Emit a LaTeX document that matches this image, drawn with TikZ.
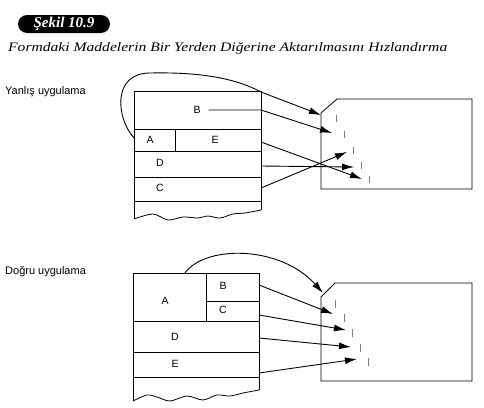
\documentclass[tikz,border=0pt]{standalone}
\usepackage{fontspec}
\setmainfont{Liberation Serif}
\newfontfamily\lblfont{Liberation Sans}
\usetikzlibrary{arrows.meta}
\begin{document}
\begin{tikzpicture}[x=1pt,y=-1pt,
  formline/.style={line width=0.8pt,black},
  arr/.style={line width=0.9pt,-{Latex[length=12pt,width=7pt]}},
  tick/.style={line width=0.6pt,gray},
  lbl/.style={font=\lblfont\fontsize{11}{12}\selectfont,inner sep=0pt},
  cell/.style={font=\lblfont\fontsize{10.5}{11}\selectfont,inner sep=0pt}]
\useasboundingbox (0,0) rectangle (484,407);
% title
\node[fill=black,rounded corners=9pt,minimum width=92pt,minimum height=18pt,inner sep=0pt,
  text=white,font=\fontsize{15}{16}\selectfont\bfseries\itshape] (title) at (64,24) {Şekil 10.9};
\node[anchor=west,inner sep=0pt,font=\fontsize{13}{14}\selectfont\itshape] (subtitle) at (8,48)
  {\scalebox{1.2}[1]{Formdaki Maddelerin Bir Yerden Diğerine Aktarılmasını Hızlandırma}};
% side labels
\node[lbl,anchor=west] (wrong) at (5,92) {Yanlış uygulama};
\node[lbl,anchor=west] (right) at (5,272) {Doğru uygulama};

% ===== top form =====
\coordinate (t1) at (134,91);
\coordinate (t2) at (261,91);
\draw[formline] (134,219) -- (t1) -- (t2) -- (261,210);
\draw[formline] plot[smooth] coordinates {(134,219) (153,214) (168,220) (183,217) (198,218) (208,216) (220,218) (233,214) (245,213) (261,210)};
\foreach \y in {129,151,177,201} \draw[formline] (134,\y) -- (261,\y);
\draw[formline] (175,129) -- (175,151);
\node[cell] (tB) at (197,110) {B};
\node[cell] (tA) at (150,140) {A};
\node[cell] (tE) at (215,140) {E};
\node[cell] (tD) at (160,163) {D};
\node[cell] (tC) at (160,188) {C};
% top target box
\coordinate (tc) at (321,115);
\draw[formline] (321,189) -- (321,113) -- (337,99) -- (472,99) -- (472,189) -- cycle;
\foreach \x/\y in {336/115,344/131,353/147,361/162,369/176} \draw[tick] (\x,\y) -- (\x,\y+7);
% top connectors
\coordinate (tAs) at (134,138);
\draw[arr] (tAs) .. controls (116,118) and (112,73) .. (150,73) .. controls (200,72) and (235,78) .. (261,92) -- (tc);
\coordinate (tBe) at (332,133);
\draw[arr] (tB.east) ++(8,0) -- (261,110) -- (tBe);
\coordinate (tEs) at (261,142); \coordinate (tEe) at (362,179);
\draw[arr] (tEs) -- (tEe);
\coordinate (tDs) at (261,166); \coordinate (tDe) at (354,167);
\draw[arr] (tDs) -- (tDe);
\coordinate (tCs) at (261,188); \coordinate (tCe) at (347,152);
\draw[arr] (tCs) -- (tCe);

% ===== bottom form =====
\draw[formline] (133,401) -- (133,273) -- (259,273) -- (259,390);
\draw[formline] plot[smooth] coordinates {(133,401) (147,395) (157,397) (170,401) (187,396) (203,400) (217,395) (230,396) (243,393) (259,390)};
\draw[formline] (206,273) -- (206,321);
\draw[formline] (206,301) -- (259,301);
\foreach \y in {321,352,377} \draw[formline] (133,\y) -- (259,\y);
\node[cell] (bA) at (165,301) {A};
\node[cell] (bB) at (223,286) {B};
\node[cell] (bC) at (223,310) {C};
\node[cell] (bD) at (175,337) {D};
\node[cell] (bE) at (175,364) {E};
% bottom target box
\draw[formline] (321,381) -- (321,297) -- (335,283) -- (472,283) -- (472,381) -- cycle;
\foreach \x/\y in {335/300,344/314,352/329,360/344,368/358} \draw[tick] (\x,\y) -- (\x,\y+8);
% bottom connectors
\coordinate (bAs) at (185,273); \coordinate (bc) at (323,293);
\draw[arr] (bAs) .. controls (205,245) and (280,245) .. (bc);
\coordinate (bBs) at (259,285); \coordinate (bBe) at (333,314);
\draw[arr] (bBs) -- (bBe);
\coordinate (bCs) at (259,315); \coordinate (bCe) at (346,330);
\draw[arr] (bCs) -- (bCe);
\coordinate (bDs) at (259,338); \coordinate (bDe) at (351,347);
\draw[arr] (bDs) -- (bDe);
\coordinate (bEs) at (259,373); \coordinate (bEe) at (357,359);
\draw[arr] (bEs) -- (bEe);
\end{tikzpicture}
\end{document}
